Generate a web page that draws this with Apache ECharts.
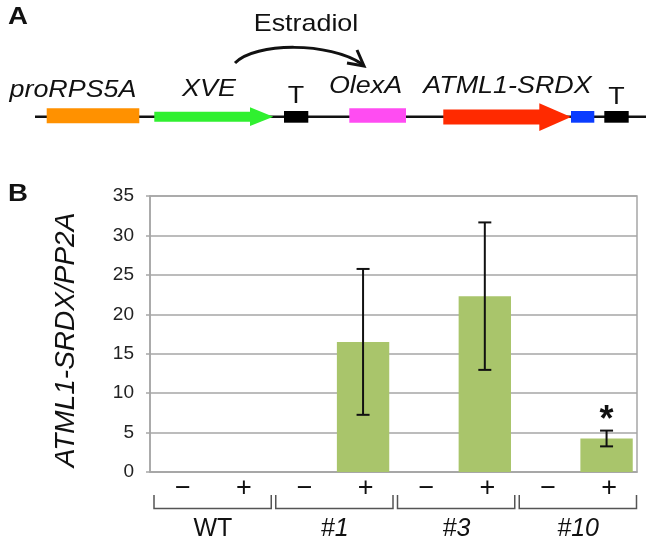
<!DOCTYPE html>
<html>
<head>
<meta charset="utf-8">
<script src="https://cdn.jsdelivr.net/npm/echarts@6/dist/echarts.min.js"></script>
<style>
html,body{margin:0;padding:0;background:#fff;}
#chart{width:653px;height:546px;}
</style>
</head>
<body>
<div id="chart"></div>
<script>
// ---- data ----
var categories = ['\u2212', '+', '\u2212', '+', '\u2212', '+', '\u2212', '+'];
var groups = ['WT', '#1', '#3', '#10'];
var means = [0, 0, 0, 16.5, 0, 22.3, 0, 4.25];
var errors = [0, 0, 0, 9.25, 0, 9.35, 0, 1.0];
var sigLabels = ['', '', '', '', '', '', '', '*'];
var yTicks = { min: 0, max: 35, interval: 5 };
var yTitle = 'ATML1-SRDX/PP2A';

var FONT = 'Liberation Sans, Arial, sans-serif';
var chart = echarts.init(document.getElementById('chart'), null, { renderer: 'canvas' });

function txt(text, x, y, opts) {
  opts = opts || {};
  return {
    type: 'text',
    x: x, y: y,
    scaleX: opts.sx || 1.12,
    style: {
      text: text, x: 0, y: 0,
      align: opts.align || 'center',
      verticalAlign: 'middle',
      font: (opts.italic ? 'italic ' : '') + (opts.bold ? 'bold ' : '') + (opts.size || 24) + 'px ' + FONT,
      fill: '#111'
    },
    silent: true
  };
}

var diagram = [
  txt('A', 8, 18, { bold: true, size: 23, align: 'left', sx: 1.2 }),
  txt('B', 8, 195, { bold: true, size: 23, align: 'left', sx: 1.2 }),
  txt('Estradiol', 306, 24, {}),
  txt('proRPS5A', 73, 90.5, { italic: true }),
  txt('XVE', 209, 89, { italic: true }),
  txt('T', 296, 96.5, {}),
  txt('OlexA', 365.5, 86.5, { italic: true }),
  txt('ATML1-SRDX', 507.5, 86, { italic: true }),
  txt('T', 616.5, 97, {}),
  { type: 'line', shape: { x1: 35, y1: 116.7, x2: 646, y2: 116.7 }, style: { stroke: '#111', lineWidth: 2.5 }, silent: true },
  { type: 'rect', shape: { x: 46.7, y: 108.3, width: 92.6, height: 15 }, style: { fill: '#FF9100' }, silent: true },
  { type: 'polygon', shape: { points: [[154.3, 111.7], [250, 111.7], [250, 107.3], [273.3, 116.7], [250, 126], [250, 121.7], [154.3, 121.7]] }, style: { fill: '#30F030' }, silent: true },
  { type: 'rect', shape: { x: 284, y: 111, width: 24.3, height: 11.7 }, style: { fill: '#000' }, silent: true },
  { type: 'rect', shape: { x: 349.3, y: 108.3, width: 56.7, height: 14.4 }, style: { fill: '#FF4CF2' }, silent: true },
  { type: 'polygon', shape: { points: [[443.3, 109.5], [539.3, 109.5], [539.3, 103.3], [571, 117], [539.3, 131], [539.3, 124.5], [443.3, 124.5]] }, style: { fill: '#FF2A00' }, silent: true },
  { type: 'rect', shape: { x: 571, y: 111, width: 23.3, height: 11.7 }, style: { fill: '#0A3CFF' }, silent: true },
  { type: 'rect', shape: { x: 604.3, y: 111, width: 24.4, height: 11.7 }, style: { fill: '#000' }, silent: true },
  { type: 'bezierCurve', shape: { x1: 235, y1: 63, cpx1: 255, cpy1: 42, cpx2: 330, cpy2: 42, x2: 362, y2: 64 }, style: { stroke: '#111', lineWidth: 3, fill: null }, silent: true },
  { type: 'polyline', shape: { points: [[357, 50], [364, 66], [347, 63]] }, style: { stroke: '#111', lineWidth: 3, fill: null }, silent: true }
];

var option = {
  animation: false,
  backgroundColor: '#fff',
  textStyle: { fontFamily: FONT },
  grid: { left: 150, right: 16, top: 196, bottom: 74, show: true, borderColor: '#A6A6A6', borderWidth: 1.5, containLabel: false },
  xAxis: [
    {
      type: 'category', data: categories,
      axisLine: { show: true, lineStyle: { color: '#A6A6A6', width: 1.5 } },
      axisTick: { show: false },
      axisLabel: { fontSize: 27, color: '#111', margin: 3, fontFamily: FONT, interval: 0, padding: [0, 0, 0, 5] }
    },
    {
      type: 'category', data: groups, position: 'bottom', offset: 40,
      axisLine: { show: false }, axisTick: { show: false }, splitLine: { show: false },
      axisLabel: {
        margin: 5, interval: 0,
        formatter: function (v) { return v === 'WT' ? '{n|' + v + '}' : '{i|' + v + '}'; },
        rich: {
          n: { fontSize: 25, color: '#111', fontFamily: FONT, padding: [0, 0, 0, 4] },
          i: { fontSize: 25, color: '#111', fontStyle: 'italic', fontFamily: FONT, padding: [0, 0, 0, 4] }
        }
      }
    }
  ],
  yAxis: {
    type: 'value', min: yTicks.min, max: yTicks.max, interval: yTicks.interval,
    name: yTitle, nameLocation: 'middle', nameGap: 70,
    nameTextStyle: { fontSize: 28, fontStyle: 'italic', color: '#111', fontFamily: FONT, padding: [0, 12, 0, 0] },
    axisLine: { show: true, lineStyle: { color: '#A6A6A6', width: 1.5 } },
    axisTick: { show: true, length: 4, lineStyle: { color: '#A6A6A6', width: 1.5 } },
    axisLabel: { fontSize: 19, color: '#222', margin: 16, fontFamily: FONT },
    splitLine: { show: true, lineStyle: { color: '#A6A6A6', width: 1.5 } }
  },
  series: [
    {
      type: 'bar', xAxisIndex: 0, data: means, barWidth: '86%',
      itemStyle: { color: '#A9C56B' }, silent: true
    },
    {
      type: 'custom', xAxisIndex: 0, clip: false, silent: true, z: 5,
      data: means.map(function (m, i) { return [i, m, errors[i]]; }),
      renderItem: function (params, api) {
        var x = api.value(0), m = api.value(1), e = api.value(2);
        var children = [];
        if (e > 0) {
          var top = api.coord([x, m + e]), bot = api.coord([x, m - e]);
          var hw = 6.5;
          var st = { stroke: '#111', lineWidth: 2 };
          children.push({ type: 'line', shape: { x1: top[0], y1: top[1], x2: bot[0], y2: bot[1] }, style: st });
          children.push({ type: 'line', shape: { x1: top[0] - hw, y1: top[1], x2: top[0] + hw, y2: top[1] }, style: st });
          children.push({ type: 'line', shape: { x1: bot[0] - hw, y1: bot[1], x2: bot[0] + hw, y2: bot[1] }, style: st });
          var s = sigLabels[params.dataIndex];
          if (s) {
            children.push({ type: 'text', style: { text: s, x: top[0], y: top[1] - 10, align: 'center', verticalAlign: 'middle', font: 'bold 36px ' + FONT, fill: '#111' } });
          }
        }
        return { type: 'group', children: children };
      }
    },
    {
      type: 'custom', xAxisIndex: 1, clip: false, silent: true,
      data: groups.map(function (g, i) { return [i, 0]; }),
      renderItem: function (params, api) {
        var c = api.coord([api.value(0), 0]);
        var w = api.size([1, 0])[0];
        var l = c[0] - w / 2 + 4, r = c[0] + w / 2 - 0.5;
        var y0 = c[1] + 23, y1 = c[1] + 36.5;
        return {
          type: 'polyline',
          shape: { points: [[l, y0], [l, y1], [r, y1], [r, y0]] },
          style: { stroke: '#555', lineWidth: 1.5, fill: null }
        };
      }
    }
  ],
  graphic: diagram
};
chart.setOption(option);
</script>
</body>
</html>
